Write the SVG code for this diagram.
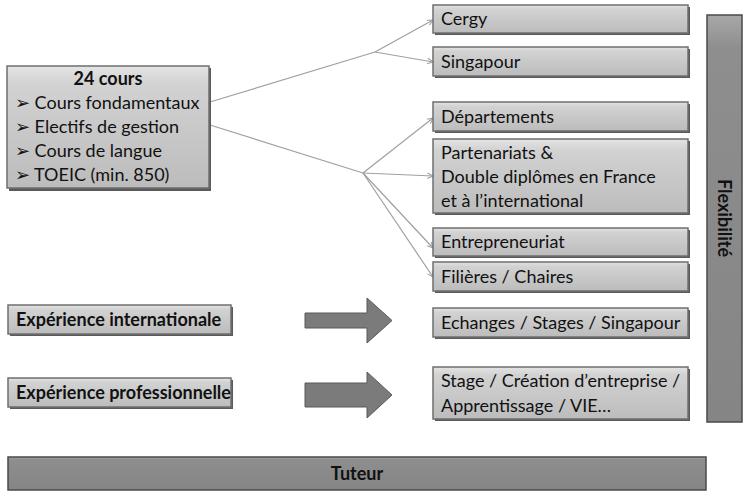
<svg xmlns="http://www.w3.org/2000/svg" width="744" height="493" viewBox="0 0 744 493">
<style>
.box{fill:url(#lg);stroke:#6f6f6f;stroke-width:1.5}
.sh{fill:#5a5a5a}
.dark{fill:url(#dg);stroke:#4a4a4a;stroke-width:1.5}
.t{font-family:Lato,"Open Sans","Liberation Sans",sans-serif;font-size:18px;fill:#111}
.b{font-weight:bold}
.con{stroke:#a0a0a0;stroke-width:1.2;fill:none}
.blk{fill:#7b7b7b;stroke:#5a5a5a;stroke-width:1}
</style>
<defs>
<linearGradient id="lg" x1="0" y1="0" x2="0" y2="1">
<stop offset="0" stop-color="#e4e4e4"/>
<stop offset="0.15" stop-color="#d2d2d2"/>
<stop offset="1" stop-color="#bcbcbc"/>
</linearGradient>
<linearGradient id="dg" x1="0" y1="0" x2="0" y2="1">
<stop offset="0" stop-color="#a8a8a8"/>
<stop offset="0.08" stop-color="#8e8e8e"/>
<stop offset="1" stop-color="#858585"/>
</linearGradient>
<marker id="ah" viewBox="0 0 10 10" refX="9" refY="5" markerWidth="7" markerHeight="7" orient="auto" markerUnits="userSpaceOnUse">
<path d="M1,1 L9,5 L1,9" fill="none" stroke="#a0a0a0" stroke-width="1.5"/>
</marker>
</defs>
<rect width="744" height="493" fill="#ffffff"/>

<g id="connectors">
<polyline class="con" points="210,102 375,52"/>
<line class="con" x1="375" y1="52" x2="433" y2="20" marker-end="url(#ah)"/>
<line class="con" x1="375" y1="52" x2="433" y2="62" marker-end="url(#ah)"/>
<polyline class="con" points="210,125 363,173"/>
<line class="con" x1="363" y1="173" x2="433" y2="118" marker-end="url(#ah)"/>
<line class="con" x1="363" y1="173" x2="433" y2="176" marker-end="url(#ah)"/>
<line class="con" x1="363" y1="173" x2="433" y2="248" marker-end="url(#ah)"/>
<line class="con" x1="363" y1="173" x2="433" y2="277" marker-end="url(#ah)"/>
<path class="blk" d="M305,313 H367 V298 L392,320.5 L367,343 V328 H305 Z"/>
<path class="blk" d="M305,383 H367 V372 L392,395 L367,418 V407 H305 Z"/>
</g>

<g id="cours">
<rect class="sh" x="9" y="68" width="202" height="123"/>
<rect class="box" x="7" y="66" width="202" height="122"/>
<text class="t b" x="108" y="85" text-anchor="middle">24 cours</text>
<text class="t" x="15" y="109">➢ Cours fondamentaux</text>
<text class="t" x="15" y="133">➢ Electifs de gestion</text>
<text class="t" x="15" y="157">➢ Cours de langue</text>
<text class="t" x="15" y="181">➢ TOEIC (min. 850)</text>
</g>

<g id="cergy">
<rect class="sh" x="435" y="7" width="255" height="28"/>
<rect class="box" x="433" y="5" width="255" height="28"/>
<text class="t" x="441" y="25">Cergy</text>
</g>
<g id="singapour">
<rect class="sh" x="435" y="49" width="255" height="29"/>
<rect class="box" x="433" y="47" width="255" height="29"/>
<text class="t" x="441" y="68">Singapour</text>
</g>
<g id="departements">
<rect class="sh" x="435" y="104" width="255" height="29"/>
<rect class="box" x="433" y="102" width="255" height="29"/>
<text class="t" x="441" y="123">Départements</text>
</g>
<g id="partenariats">
<rect class="sh" x="435" y="141" width="255" height="74"/>
<rect class="box" x="433" y="139" width="255" height="74"/>
<text class="t" x="441" y="159">Partenariats &amp;</text>
<text class="t" x="441" y="183">Double diplômes en France</text>
<text class="t" x="441" y="207">et à l’international</text>
</g>
<g id="entrepreneuriat">
<rect class="sh" x="435" y="230" width="255" height="28"/>
<rect class="box" x="433" y="228" width="255" height="28"/>
<text class="t" x="441" y="248">Entrepreneuriat</text>
</g>
<g id="filieres">
<rect class="sh" x="435" y="264" width="255" height="29"/>
<rect class="box" x="433" y="262" width="255" height="29"/>
<text class="t" x="441" y="283">Filières / Chaires</text>
</g>

<g id="exp-int">
<rect class="sh" x="10" y="307" width="223" height="29"/>
<rect class="box" x="8" y="305" width="223" height="29"/>
<text class="t b" x="16" y="326">Expérience internationale</text>
</g>
<g id="exp-pro">
<rect class="sh" x="10" y="380" width="223" height="29"/>
<rect class="box" x="8" y="378" width="223" height="29"/>
<text class="t b" x="16" y="399">Expérience professionnelle</text>
</g>

<g id="echanges">
<rect class="sh" x="435" y="310" width="255" height="29"/>
<rect class="box" x="433" y="308" width="255" height="29"/>
<text class="t" x="441" y="329">Echanges / Stages / Singapour</text>
</g>
<g id="stage">
<rect class="sh" x="435" y="369" width="255" height="52"/>
<rect class="box" x="433" y="367" width="255" height="52"/>
<text class="t" x="441" y="387">Stage / Création d’entreprise /</text>
<text class="t" x="441" y="412">Apprentissage / VIE…</text>
</g>

<g id="flexibilite">
<rect class="dark" x="707" y="15" width="35" height="407"/>
<text class="t b" x="0" y="0" text-anchor="middle" transform="translate(718,218) rotate(90)">Flexibilité</text>
</g>

<g id="tuteur">
<rect class="dark" x="8" y="457" width="698" height="33"/>
<text class="t b" x="357" y="480" text-anchor="middle">Tuteur</text>
</g>
</svg>
